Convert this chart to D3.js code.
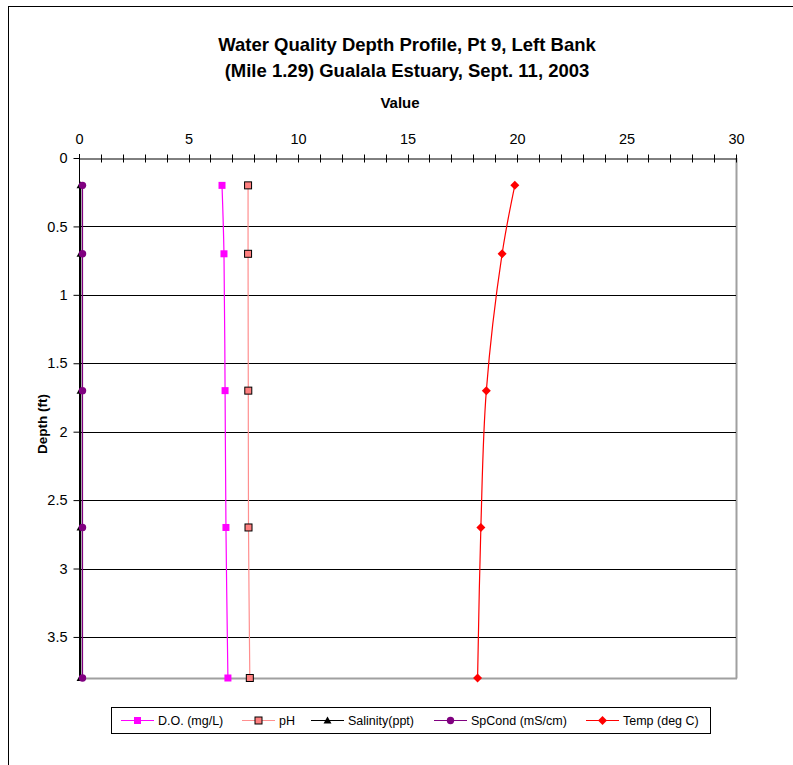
<!DOCTYPE html>
<html><head><meta charset="utf-8">
<script src="https://cdn.jsdelivr.net/npm/d3@7"></script>
<style>body{margin:0;background:#fff}svg{display:block;font-family:"Liberation Sans",Arial,sans-serif}</style>
</head><body><svg id="c" width="793" height="765"></svg>
<script>
const depths = [0.2, 0.7, 1.7, 2.7, 3.8];
const doVals = [6.53, 6.62, 6.67, 6.71, 6.8];
const phVals = [7.72, 7.72, 7.73, 7.74, 7.8];
const salVals = [0.07, 0.07, 0.07, 0.07, 0.07];
const spcVals = [0.16, 0.16, 0.16, 0.16, 0.16];
const tempVals = [19.9, 19.32, 18.6, 18.35, 18.2];
const xTicks = [0, 5, 10, 15, 20, 25, 30];
const yTicks = [0, 0.5, 1, 1.5, 2, 2.5, 3, 3.5];
const seriesNames = ["D.O. (mg/L)", "pH", "Salinity(ppt)", "SpCond (mS/cm)", "Temp (deg C)"];

const svg = d3.select("#c");
const L = 79, R = 736, T = 158, B = 678;
const x = d3.scaleLinear().domain([0, 30]).range([L, R]);
const y = d3.scaleLinear().domain([0, 3.8]).range([T, B]);

// outer frame
svg.append("rect").attr("x", 8.5).attr("y", 6.5).attr("width", 800).attr("height", 800)
  .attr("fill", "none").attr("stroke", "#000").attr("stroke-width", 1);

// title
const title = svg.append("text").attr("text-anchor", "middle").attr("font-weight", "bold").attr("font-size", 18.5);
title.append("tspan").attr("x", 407).attr("y", 51).text("Water Quality Depth Profile, Pt 9, Left Bank");
title.append("tspan").attr("x", 407).attr("y", 77).text("(Mile 1.29) Gualala Estuary, Sept. 11, 2003");
svg.append("text").attr("x", 400).attr("y", 108).attr("text-anchor", "middle")
  .attr("font-weight", "bold").attr("font-size", 15).text("Value");
svg.append("text").attr("transform", "translate(47,424) rotate(-90)").attr("text-anchor", "middle")
  .attr("font-weight", "bold").attr("font-size", 13.5).text("Depth (ft)");

// plot border right/bottom grey
svg.append("line").attr("x1", R + 0.5).attr("x2", R + 0.5).attr("y1", T).attr("y2", B + 0.5)
  .attr("stroke", "#a0a0a0").attr("stroke-width", 2);
svg.append("line").attr("x1", L).attr("x2", R + 1).attr("y1", B + 0.5).attr("y2", B + 0.5)
  .attr("stroke", "#a0a0a0").attr("stroke-width", 2);

// gridlines
svg.append("g").selectAll("line").data(yTicks.filter(d => d > 0)).join("line")
  .attr("x1", L).attr("x2", R).attr("y1", d => Math.round(y(d)) + 0.5).attr("y2", d => Math.round(y(d)) + 0.5)
  .attr("stroke", "#000").attr("stroke-width", 1);

// x axis on top
const xAxis = d3.axisTop(x).tickValues(xTicks).tickSize(0).tickPadding(15).tickFormat(d3.format("d"));
const gx = svg.append("g").attr("transform", `translate(0,${T + 0.5})`).call(xAxis);
gx.select(".domain").attr("stroke", "#000");
gx.selectAll("text").attr("font-size", 14.5).attr("font-family", "Liberation Sans, Arial, sans-serif").attr("fill", "#000");
gx.append("g").selectAll("line").data(d3.range(1, 31)).join("line")
  .attr("x1", d => Math.round(x(d)) + 0.5).attr("x2", d => Math.round(x(d)) + 0.5)
  .attr("y1", -4).attr("y2", 4).attr("stroke", "#000");

// y axis
const yAxis = d3.axisLeft(y).tickValues(yTicks).tickSize(6).tickPadding(6).tickFormat(d => d);
const gy = svg.append("g").attr("transform", `translate(${L + 0.5},0)`).call(yAxis);
gy.select(".domain").attr("d", `M0,${T - 4}V${B + 1}`).attr("stroke", "#000");
gy.selectAll(".tick line").attr("stroke", "#000");
gy.selectAll("text").attr("font-size", 14.5).attr("font-family", "Liberation Sans, Arial, sans-serif").attr("fill", "#000");

const series = [
  {name: seriesNames[0], vals: doVals, color: "#ff00ff", marker: "square", fill: "#ff00ff", stroke: "none"},
  {name: seriesNames[1], vals: phVals, color: "#ff8f8f", marker: "square", fill: "#ff8080", stroke: "#000"},
  {name: seriesNames[2], vals: salVals, color: "#000", marker: "triangle", fill: "#000", stroke: "none"},
  {name: seriesNames[3], vals: spcVals, color: "#800080", marker: "circle", fill: "#800080", stroke: "none"},
  {name: seriesNames[4], vals: tempVals, color: "#ff0000", marker: "diamond", fill: "#ff0000", stroke: "none"}
];

const line = d3.line().x(d => x(d[0])).y(d => y(d[1])).curve(d3.curveCatmullRom.alpha(0.5));

function marker(g, type, cx, cy, s) {
  if (type === "square") {
    g.append("rect").attr("x", cx - 3.5).attr("y", cy - 3.5).attr("width", 7).attr("height", 7)
      .attr("fill", s.fill).attr("stroke", s.stroke === "none" ? null : s.stroke).attr("stroke-width", 1);
  } else if (type === "triangle") {
    g.append("path").attr("d", `M${cx},${cy - 4}L${cx + 4},${cy + 3}L${cx - 4},${cy + 3}Z`).attr("fill", s.fill);
  } else if (type === "circle") {
    g.append("circle").attr("cx", cx).attr("cy", cy).attr("r", 3.7).attr("fill", s.fill);
  } else if (type === "diamond") {
    g.append("path").attr("d", `M${cx},${cy - 4.5}L${cx + 4.5},${cy}L${cx},${cy + 4.5}L${cx - 4.5},${cy}Z`).attr("fill", s.fill);
  }
}

const plot = svg.append("g");
series.forEach(s => {
  const pts = s.vals.map((v, i) => [v, depths[i]]);
  plot.append("path").datum(pts).attr("d", line).attr("fill", "none")
    .attr("stroke", s.color).attr("stroke-width", s.marker === "triangle" ? 1.5 : 1.2);
});
series.forEach(s => {
  const g = plot.append("g");
  s.vals.forEach((v, i) => marker(g, s.marker, x(v), y(depths[i]), s));
});

// legend
const lg = svg.append("g");
lg.append("rect").attr("x", 111.5).attr("y", 707.5).attr("width", 599).attr("height", 26)
  .attr("fill", "#fff").attr("stroke", "#000");
const lx = [121, 242, 311, 434, 586];
series.forEach((s, i) => {
  const cy = 720.5;
  lg.append("line").attr("x1", lx[i]).attr("x2", lx[i] + 33).attr("y1", cy).attr("y2", cy)
    .attr("stroke", s.color).attr("stroke-width", 1.2);
  marker(lg, s.marker, lx[i] + 16.5, cy, s);
  lg.append("text").attr("x", lx[i] + 37).attr("y", cy + 4.5).attr("font-size", 12.5).text(s.name);
});
</script></body></html>
